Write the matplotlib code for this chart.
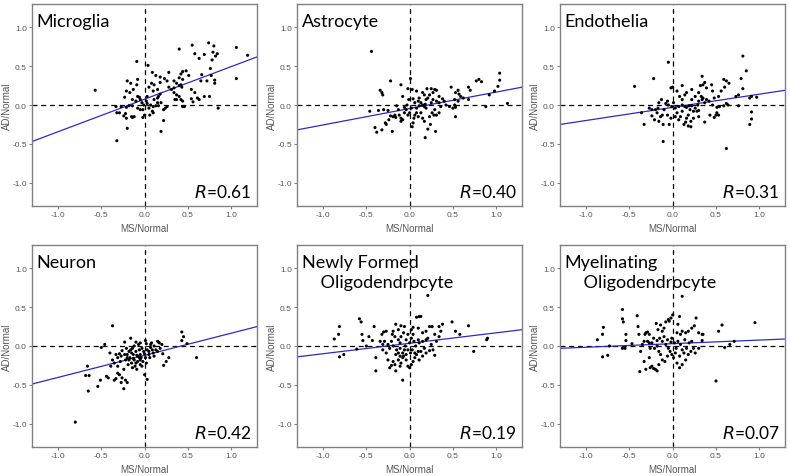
import matplotlib
matplotlib.use("Agg")
import matplotlib.pyplot as plt
import numpy as np

# ---------------- data ----------------
titles = ["Microglia", "Astrocyte", "Endothelia", "Neuron",
          "Newly Formed\n    Oligodendrocyte", "Myelinating\n    Oligodendrocyte"]
r_values = ["0.61", "0.40", "0.31", "0.42", "0.19", "0.07"]
# fitted line values at x=-1.3 and x=1.3
line_left = [-0.47, -0.32, -0.25, -0.49, -0.14, -0.03]
line_right = [0.62, 0.23, 0.19, 0.25, 0.21, 0.09]
tick_vals = [-1.0, -0.5, 0.0, 0.5, 1.0]
tick_labels = ["-1.0", "-0.5", "0.0", "0.5", "1.0"]

microglia_pts = [
    (-0.57, 0.19), (-0.32, -0.46), (-0.09, 0.56), (0.04, 0.51), (0.40, 0.72), (0.55, 0.77),
    (0.58, 0.66), (0.63, 0.60), (0.69, 0.65), (0.74, 0.80), (0.80, 0.76), (0.78, 0.58),
    (0.84, 0.66), (0.82, 0.63), (0.79, 0.68), (1.06, 0.74), (1.19, 0.64), (1.06, 0.34),
    (0.76, 0.47), (0.77, 0.38), (0.81, 0.32), (0.81, 0.28), (0.85, -0.04), (0.75, 0.11),
    (0.69, 0.11), (0.65, 0.31), (0.72, 0.31), (0.66, 0.39), (0.54, 0.20), (0.58, 0.16),
    (0.61, 0.09), (0.54, 0.08), (0.56, 0.04), (0.51, 0.38), (0.48, 0.44), (0.44, 0.43),
    (0.42, 0.40), (0.40, 0.35), (0.44, 0.33), (0.42, 0.26), (0.43, 0.23), (0.40, 0.25),
    (0.37, 0.28), (0.34, 0.31), (0.28, 0.42), (0.23, 0.34), (0.18, 0.36), (0.13, 0.38),
    (0.09, 0.42), (0.18, 0.29), (0.28, 0.23), (0.31, 0.20), (0.34, 0.16), (0.37, 0.13),
    (0.40, 0.11), (0.35, 0.07), (0.42, 0.07), (0.44, -0.02), (0.46, -0.02), (0.26, -0.02),
    (0.22, -0.06), (0.24, -0.04), (0.19, 0.03), (0.16, 0.11), (0.18, 0.14), (0.15, 0.09),
    (0.11, 0.07), (0.15, 0.20), (0.11, 0.26), (0.10, 0.18), (0.07, 0.00), (0.10, -0.02),
    (0.13, -0.01), (0.16, -0.01), (0.06, -0.13), (0.22, -0.20), (0.19, -0.34), (0.10, -0.10),
    (0.00, -0.13), (-0.02, -0.16), (-0.02, -0.06), (-0.03, 0.03), (-0.05, 0.07), (-0.06, 0.10),
    (-0.08, 0.11), (-0.08, 0.33), (-0.09, 0.26), (-0.16, 0.28), (-0.20, 0.31), (-0.21, 0.18),
    (-0.23, 0.10), (-0.17, 0.16), (-0.13, 0.20), (-0.14, 0.07), (-0.10, 0.05), (-0.14, -0.01),
    (-0.18, -0.01), (-0.21, -0.03), (-0.27, -0.02), (-0.33, -0.02), (-0.32, -0.10), (-0.29, -0.10),
    (-0.24, -0.14), (-0.22, -0.11), (-0.21, -0.17), (-0.15, -0.15), (-0.14, -0.16), (-0.12, -0.15),
    (-0.20, -0.30), (-0.08, -0.04), (-0.05, -0.06), (0.02, 0.05), (0.03, 0.02), (-0.01, 0.00),
    (0.05, -0.04), (0.09, -0.08), (0.15, 0.03), (0.03, 0.11), (0.05, 0.23), (0.08, 0.28),
    (0.26, 0.31), (0.34, 0.22), (0.37, 0.07), (0.44, 0.05), (0.63, 0.07),
]
astrocyte_pts = [
    (-0.44, 0.69), (-0.22, 0.31), (-0.34, 0.19), (-0.32, 0.16), (-0.31, 0.13), (-0.10, 0.26),
    (0.01, 0.34), (-0.02, 0.21), (0.03, 0.20), (-0.08, 0.11), (0.08, 0.18), (0.15, 0.16),
    (0.17, 0.13), (0.20, 0.21), (0.25, 0.21), (0.29, 0.20), (0.31, 0.19), (0.27, 0.16),
    (0.23, 0.13), (0.21, 0.09), (0.34, 0.11), (0.38, 0.08), (0.48, 0.23), (0.53, 0.16),
    (0.56, 0.19), (0.57, 0.14), (0.59, 0.11), (0.52, 0.07), (0.56, 0.05), (0.52, 0.00),
    (0.53, -0.03), (0.53, -0.15), (0.62, 0.09), (0.68, 0.23), (0.70, 0.19), (0.68, 0.07),
    (0.77, 0.31), (0.80, 0.33), (0.83, 0.30), (0.88, -0.02), (0.92, 0.13), (0.98, 0.18),
    (1.02, 0.24), (1.04, 0.41), (1.04, 0.32), (1.13, 0.02), (-0.46, -0.08), (-0.40, -0.29),
    (-0.38, -0.35), (-0.32, -0.32), (-0.36, -0.07), (-0.28, -0.23), (-0.27, -0.25), (-0.24, -0.19),
    (-0.22, -0.14), (-0.20, -0.34), (-0.19, -0.15), (-0.16, -0.16), (-0.17, -0.13), (-0.15, -0.01),
    (-0.13, -0.06), (-0.12, -0.13), (-0.10, -0.17), (-0.10, -0.21), (-0.08, -0.19), (-0.06, -0.10),
    (-0.06, -0.03), (-0.04, -0.06), (-0.02, -0.13), (-0.03, 0.00), (0.03, -0.28), (0.04, -0.23),
    (0.05, -0.17), (0.08, -0.04), (0.08, -0.10), (0.06, 0.03), (0.10, 0.05), (0.11, -0.01),
    (0.13, 0.03), (0.15, 0.00), (0.17, -0.02), (0.18, 0.01), (0.19, -0.04), (0.13, -0.10),
    (0.15, -0.17), (0.17, -0.21), (0.18, -0.42), (0.21, -0.31), (0.24, -0.25), (0.23, -0.15),
    (0.26, -0.10), (0.28, -0.13), (0.30, -0.34), (0.31, -0.13), (0.29, -0.06), (0.27, 0.07),
    (0.25, 0.03), (0.31, 0.05), (0.34, 0.03), (0.36, -0.02), (0.40, 0.05), (0.42, 0.00),
    (0.46, -0.02), (0.50, -0.04), (0.34, -0.10), (0.19, 0.07), (0.11, 0.09), (0.04, 0.08),
    (-0.01, 0.07), (0.02, -0.04), (0.06, -0.13), (0.10, -0.15), (0.00, -0.10), (-0.30, -0.06),
    (-0.25, -0.07),
]
endothelia_pts = [
    (-0.44, 0.24), (-0.22, 0.34), (-0.05, 0.55), (-0.02, 0.22), (0.00, 0.23), (0.11, 0.25),
    (0.05, 0.18), (0.14, 0.13), (0.16, 0.16), (0.22, 0.20), (0.30, 0.16), (0.34, 0.37),
    (0.35, 0.26), (0.37, 0.29), (0.35, 0.09), (0.33, 0.11), (0.32, 0.25), (0.39, 0.22),
    (0.45, 0.26), (0.46, 0.18), (0.48, 0.09), (0.53, 0.11), (0.56, 0.18), (0.59, 0.33),
    (0.62, 0.31), (0.60, 0.23), (0.65, 0.28), (0.81, 0.63), (0.85, 0.44), (0.79, 0.34),
    (0.81, 0.21), (0.73, 0.11), (0.76, 0.13), (0.89, 0.09), (0.91, 0.11), (0.97, 0.10),
    (0.91, -0.09), (0.76, -0.01), (0.62, 0.02), (0.64, 0.00), (0.59, -0.01), (0.54, -0.02),
    (0.51, -0.03), (0.51, -0.10), (0.50, -0.13), (0.48, -0.16), (0.53, -0.13), (0.53, -0.02),
    (0.46, 0.00), (0.42, 0.05), (0.39, 0.07), (0.37, 0.03), (0.34, 0.07), (0.30, 0.05),
    (0.29, 0.00), (0.26, -0.04), (0.24, -0.08), (0.28, -0.08), (0.30, -0.07), (0.37, -0.22),
    (0.62, -0.56), (0.89, -0.25), (0.91, -0.18), (0.22, -0.01), (0.20, -0.06), (0.18, -0.13),
    (0.16, -0.17), (0.15, -0.22), (0.13, -0.25), (0.18, -0.27), (0.21, -0.28), (0.21, -0.21),
    (0.24, -0.17), (0.11, -0.08), (0.09, -0.15), (0.07, -0.19), (0.05, -0.10), (0.03, -0.04),
    (0.01, 0.03), (-0.01, -0.02), (-0.05, 0.00), (-0.06, 0.05), (-0.08, 0.02), (-0.10, -0.06),
    (-0.12, -0.13), (-0.14, -0.15), (-0.11, -0.25), (-0.11, -0.47), (-0.16, -0.21), (-0.18, -0.10),
    (-0.17, -0.04), (-0.13, 0.07), (-0.16, 0.03), (-0.20, -0.06), (-0.24, -0.06), (-0.27, -0.04),
    (-0.24, -0.14), (-0.21, -0.19), (-0.33, -0.25), (-0.36, -0.10), (-0.04, -0.25), (-0.02, -0.17),
    (-0.06, -0.13), (0.03, -0.15), (0.07, -0.02), (0.11, 0.00), (0.14, -0.02), (0.16, -0.03),
    (0.19, -0.01), (0.11, 0.07), (0.08, 0.11), (0.26, 0.11), (0.22, 0.07), (0.43, -0.13),
    (0.30, -0.15),
]
neuron_pts = [
    (-0.80, -0.98), (-0.37, 0.26), (-0.46, 0.02), (-0.50, -0.02), (-0.65, -0.58), (-0.68, -0.38),
    (-0.64, -0.38), (-0.54, -0.52), (-0.51, -0.44), (-0.66, -0.26), (-0.44, -0.39), (-0.42, -0.41),
    (-0.39, -0.26), (-0.35, -0.44), (-0.33, -0.42), (-0.31, -0.35), (-0.29, -0.37), (-0.27, -0.47),
    (-0.26, -0.41), (-0.24, -0.30), (-0.22, -0.44), (-0.20, -0.47), (-0.24, -0.55), (-0.40, -0.09),
    (-0.37, -0.18), (-0.35, -0.22), (-0.33, -0.11), (-0.31, -0.15), (-0.29, -0.10), (-0.28, -0.20),
    (-0.27, -0.13), (-0.26, -0.06), (-0.23, 0.05), (-0.21, -0.03), (-0.20, -0.11), (-0.18, -0.07),
    (-0.17, -0.15), (-0.16, 0.10), (-0.15, -0.22), (-0.14, -0.03), (-0.13, -0.11), (-0.12, -0.18),
    (-0.11, -0.26), (-0.10, -0.07), (-0.10, 0.05), (-0.08, -0.13), (-0.08, -0.20), (-0.06, -0.05),
    (-0.05, -0.24), (-0.05, -0.11), (-0.04, -0.15), (-0.03, -0.03), (-0.02, -0.20), (-0.01, -0.07),
    (0.00, -0.37), (0.03, -0.43), (0.01, 0.07), (0.02, 0.03), (0.03, -0.05), (0.05, -0.11),
    (0.06, -0.15), (0.07, -0.02), (0.08, 0.04), (0.10, -0.09), (0.11, -0.13), (0.13, -0.05),
    (0.15, 0.06), (0.16, 0.05), (0.18, -0.03), (0.20, 0.02), (0.21, -0.10), (0.22, -0.25),
    (0.25, -0.20), (0.28, -0.15), (0.43, 0.18), (0.45, 0.12), (0.43, 0.07), (0.49, 0.03),
    (0.60, -0.15), (-0.22, -0.18), (-0.19, -0.24), (-0.14, -0.28), (-0.09, -0.30), (-0.06, -0.15),
    (-0.03, -0.26), (-0.07, 0.02), (-0.05, 0.04), (-0.12, 0.00), (-0.16, -0.05), (-0.23, -0.11),
    (-0.31, -0.26), (0.07, 0.02), (0.09, -0.05), (0.05, -0.07), (0.15, -0.07), (0.17, 0.04),
    (0.11, 0.00), (0.01, -0.15), (0.02, -0.22), (-0.10, -0.22), (-0.18, -0.18),
    (-0.13, -0.16), (-0.09, -0.12), (-0.05, -0.18), (0.00, -0.10), (-0.20, -0.15), (-0.15, -0.09),
]
newly_pts = [
    (0.21, 0.65), (-0.58, 0.35), (-0.56, 0.31), (-0.87, 0.09), (-0.81, 0.25), (-0.82, 0.15),
    (-0.81, -0.14), (-0.76, -0.11), (-0.61, -0.04), (-0.55, 0.15), (-0.54, 0.07), (-0.50, 0.00),
    (-0.47, 0.12), (-0.43, 0.07), (-0.41, 0.25), (-0.39, -0.15), (-0.39, -0.32), (-0.32, 0.15),
    (-0.34, 0.06), (-0.30, 0.18), (-0.27, 0.19), (-0.31, -0.05), (-0.27, -0.09), (-0.25, -0.18),
    (-0.23, -0.28), (-0.21, -0.25), (-0.19, -0.20), (-0.17, -0.24), (-0.16, -0.32), (-0.13, -0.18),
    (-0.11, -0.26), (-0.10, -0.22), (-0.08, -0.44), (-0.07, -0.13), (-0.06, -0.05), (-0.04, -0.18),
    (-0.02, -0.26), (0.00, -0.28), (0.02, -0.24), (0.04, -0.20), (0.06, -0.15), (0.08, -0.11),
    (0.10, -0.07), (0.11, -0.18), (0.13, -0.07), (0.15, -0.13), (0.17, -0.03), (0.19, -0.09),
    (0.23, -0.06), (0.27, -0.05), (0.29, -0.12), (0.25, 0.02), (0.31, 0.06), (0.34, 0.12),
    (0.36, 0.19), (0.34, 0.25), (0.38, 0.28), (0.49, 0.31), (0.53, 0.19), (0.58, 0.15),
    (0.68, 0.26), (0.74, -0.07), (0.89, 0.08), (0.90, 0.10), (0.08, 0.37), (0.11, 0.38),
    (0.13, 0.38), (0.23, 0.25), (0.26, 0.25), (0.19, 0.19), (0.15, 0.17), (0.10, 0.23),
    (0.04, 0.24), (0.02, 0.21), (-0.06, 0.25), (-0.10, 0.26), (-0.13, 0.21), (-0.16, 0.28),
    (-0.19, 0.19), (-0.20, 0.15), (-0.17, 0.12), (-0.13, 0.08), (-0.11, 0.04), (-0.10, 0.12),
    (-0.07, 0.17), (-0.04, 0.08), (-0.02, 0.15), (0.00, 0.04), (0.02, 0.10), (0.05, 0.06),
    (0.07, 0.00), (0.10, 0.08), (0.11, 0.04), (0.15, 0.06), (0.19, 0.08), (-0.21, 0.06),
    (-0.25, 0.02), (-0.23, -0.03), (-0.19, 0.00), (-0.15, -0.05), (-0.13, -0.09), (-0.11, -0.03),
    (-0.08, -0.09), (-0.05, 0.00), (-0.02, -0.05), (0.01, -0.09), (0.03, -0.05), (0.06, -0.09),
    (-0.04, -0.11), (-0.08, -0.15), (-0.11, -0.13), (-0.16, -0.11), (-0.29, 0.06), (-0.31, 0.02),
    (0.04, 0.15), (0.29, 0.15), (0.21, 0.10),
]
myelin_pts = [
    (0.11, 0.64), (0.95, 0.30), (0.50, -0.45), (0.53, 0.19), (0.57, 0.27), (0.60, -0.02),
    (0.66, 0.02), (0.71, 0.06), (-0.58, 0.47), (-0.58, 0.35), (-0.57, 0.31), (-0.87, 0.08),
    (-0.80, 0.24), (-0.81, 0.15), (-0.81, -0.14), (-0.75, -0.12), (-0.73, 0.00), (-0.58, -0.03),
    (-0.55, -0.03), (-0.54, 0.15), (-0.54, 0.07), (-0.47, 0.03), (-0.41, 0.39), (-0.40, 0.25),
    (-0.39, 0.15), (-0.38, -0.33), (-0.37, -0.07), (-0.35, 0.02), (-0.33, 0.06), (-0.32, 0.15),
    (-0.31, 0.17), (-0.29, 0.18), (-0.27, 0.15), (-0.33, -0.20), (-0.31, -0.30), (-0.27, -0.15),
    (-0.26, -0.28), (-0.24, -0.26), (-0.22, -0.29), (-0.20, -0.30), (-0.18, -0.32), (-0.16, -0.24),
    (-0.19, 0.29), (-0.17, 0.21), (-0.14, 0.27), (-0.12, 0.19), (-0.10, 0.23), (-0.08, 0.31),
    (-0.05, 0.34), (-0.04, 0.32), (-0.02, 0.36), (0.00, 0.40), (0.08, 0.38), (0.06, 0.28),
    (0.05, 0.17), (0.09, 0.15), (0.11, 0.19), (0.15, 0.17), (0.18, 0.19), (0.22, 0.23),
    (0.25, 0.26), (0.27, 0.36), (0.30, 0.17), (0.34, 0.15), (0.35, 0.15), (0.34, 0.07),
    (0.22, 0.06), (0.24, -0.03), (0.21, -0.07), (0.18, -0.11), (0.15, -0.18), (0.11, -0.24),
    (0.08, -0.28), (0.05, -0.22), (0.01, -0.15), (-0.01, -0.11), (-0.03, -0.07), (-0.06, -0.13),
    (-0.09, -0.20), (-0.12, -0.18), (-0.14, -0.11), (-0.16, -0.07), (-0.18, 0.00), (-0.21, -0.03),
    (-0.24, 0.04), (-0.26, -0.03), (-0.27, 0.04), (-0.29, 0.06), (-0.12, 0.06), (-0.10, 0.12),
    (-0.08, 0.02), (-0.06, 0.08), (-0.05, -0.03), (-0.02, 0.05), (-0.01, 0.10), (0.02, 0.04),
    (0.04, -0.03), (0.06, 0.06), (0.09, 0.02), (0.11, -0.05), (0.14, 0.08), (0.16, -0.03),
    (0.19, 0.04), (0.13, -0.09), (0.08, -0.13), (0.03, -0.09), (-0.15, 0.10), (-0.18, 0.07),
    (-0.22, 0.10), (0.30, -0.03), (0.26, -0.09),
]
all_points = [microglia_pts, astrocyte_pts, endothelia_pts, neuron_pts, newly_pts, myelin_pts]

# ---------------- figure ----------------
fig = plt.figure(figsize=(7.9, 4.77), dpi=100)
lefts = [0.0405, 0.376, 0.709]
bottoms = [0.566, 0.0608]
w, h = 0.285, 0.4235
gray = "#808080"
tickc = "#555555"

for i in range(6):
    row, col = divmod(i, 3)
    ax = fig.add_axes([lefts[col], bottoms[row], w, h])
    pts = np.array(all_points[i])
    ax.axhline(0, color="black", ls=(0, (4, 3)), lw=0.9, zorder=1)
    ax.axvline(0, color="black", ls=(0, (4, 3)), lw=0.9, zorder=1)
    ax.plot([-1.3, 1.3], [line_left[i], line_right[i]], color="#2a2acc", lw=0.9, zorder=2)
    ax.scatter(pts[:, 0], pts[:, 1], s=5, color="black", edgecolors="none", zorder=3)
    ax.set_xlim(-1.3, 1.3)
    ax.set_ylim(-1.3, 1.3)
    ax.set_xticks(tick_vals)
    ax.set_xticklabels(tick_labels)
    ax.set_yticks(tick_vals)
    ax.set_yticklabels(tick_labels)
    ax.tick_params(axis="both", length=2.5, width=0.8, color=gray, labelsize=6,
                   labelcolor=tickc, pad=1.2)
    for lab in ax.get_xticklabels() + ax.get_yticklabels():
        lab.set_fontfamily("Liberation Sans")
    for sp in ax.spines.values():
        sp.set_color(gray)
        sp.set_linewidth(1.0)
    ax.set_xlabel("MS/Normal", fontsize=7, color=tickc, family="Liberation Sans")
    ax.set_ylabel("AD/Normal", fontsize=7, color=tickc, family="Liberation Sans")
    ax.xaxis.set_label_coords(0.5, -0.085)
    ax.yaxis.set_label_coords(-0.09, 0.5)
    ax.text(0.02, 0.955, titles[i], transform=ax.transAxes, ha="left", va="top",
            fontsize=13, family="Lato", color="black", linespacing=1.3)
    ax.text(0.975, 0.03, r"$\it{R}$=" + r_values[i], transform=ax.transAxes,
            ha="right", va="bottom", fontsize=12.5, family="Lato", color="black")

fig.savefig("out.png", dpi=100)
